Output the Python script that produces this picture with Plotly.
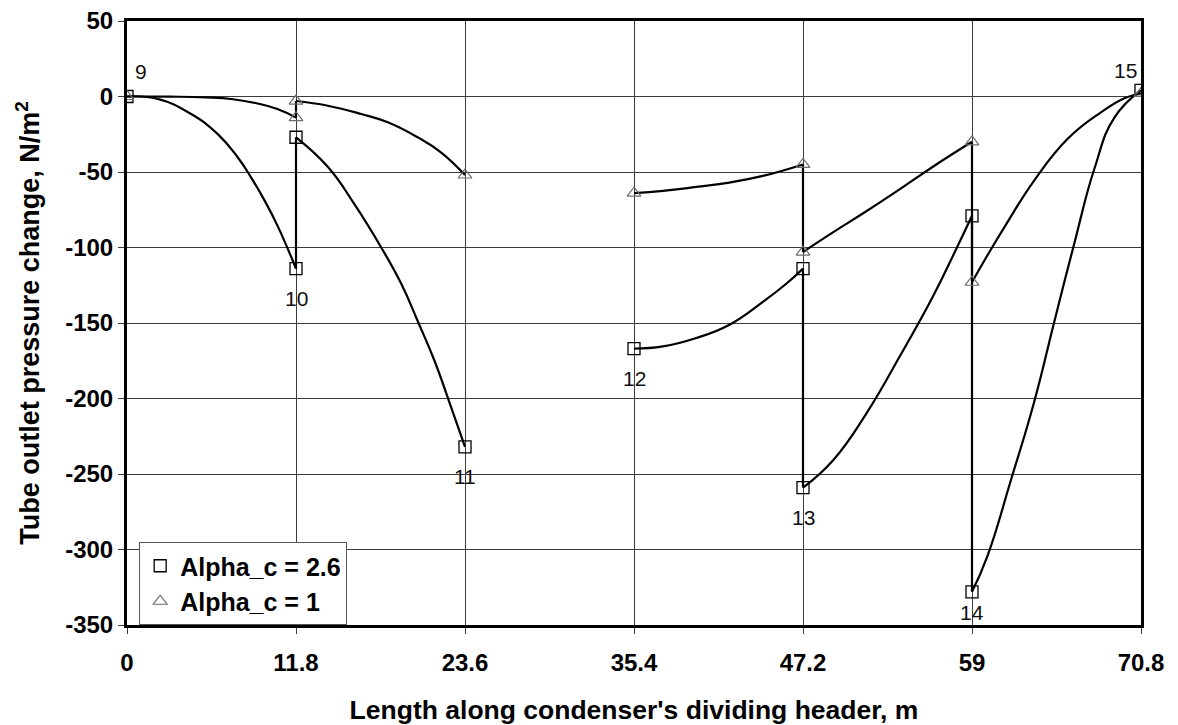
import plotly.graph_objects as go

# Node positions along the header (m) and tube outlet pressure change (N/m^2)
node_x = [0, 11.8, 11.8, 23.6, 35.4, 47.2, 47.2, 59, 59, 70.8]
sq_node_y = [0, -114, -27, -232, -167, -114, -259, -79, -328, 4]
tri_node_y = [0, -14, -3, -52, -64, -45, -103, -30, -123, 2]

# Node numbers and the node index each one belongs to
node_labels = ["9", "10", "11", "12", "13", "14", "15"]
label_nodes = [0, 1, 3, 4, 6, 8, 9]

# Intermediate points along the five curved sections, Alpha_c = 2.6
sq_curve_x = [
    [2.15, 4.48, 6.34, 7.74, 8.67, 9.60, 10.53],
    [14.02, 15.89, 17.75, 19.15, 20.31, 21.47, 22.64],
    [37.42, 39.75, 42.07, 44.40, 46.03],
    [49.29, 51.62, 53.94, 56.27, 57.90],
    [60.09, 61.72, 63.35, 64.75, 66.15, 67.54, 68.94],
]
sq_curve_y = [
    [-1.6, -11.6, -24.9, -40.4, -53.7, -68.8, -86.0],
    [-46.5, -71.5, -100.0, -124.0, -149.0, -175.0, -206.0],
    [-165.5, -159.9, -151.1, -136.0, -124.0],
    [-241.0, -210.0, -172.4, -132.5, -101.0],
    [-304.0, -254.0, -202.0, -149.0, -97.0, -48.0, -14.0],
]

# Intermediate points along the five curved sections, Alpha_c = 1
tri_curve_x = [
    [3.0, 5.5, 7.4, 9.1, 10.5],
    [14.02, 16.35, 18.21, 20.31, 21.94],
    [37.42, 39.75, 42.07, 44.40],
    [49.29, 51.62, 53.94, 56.27],
    [60.09, 61.49, 63.35, 65.68, 68.00, 69.64],
]
tri_curve_y = [
    [-0.1, -0.6, -1.8, -4.6, -8.3],
    [-6.1, -11.6, -17.1, -27.1, -37.1],
    [-62.5, -59.9, -57.0, -52.6],
    [-90.0, -76.0, -61.5, -46.5],
    [-105.0, -83.0, -55.5, -28.0, -10.5, -1.1],
]

x_ticks = [0, 11.8, 23.6, 35.4, 47.2, 59, 70.8]
x_tick_text = ["0", "11.8", "23.6", "35.4", "47.2", "59", "70.8"]
y_ticks = [50, 0, -50, -100, -150, -200, -250, -300, -350]
y_tick_text = ["50", "0", "-50", "-100", "-150", "-200", "-250", "-300", "-350"]

FONT = "Liberation Sans, Arial, sans-serif"


def build_path(node_y, curve_x, curve_y):
    """Curved sections joined by vertical jumps at the shared nodes,
    with a break between 23.6 m and 35.4 m."""
    xs, ys = [], []
    for k in range(5):
        a, b = 2 * k, 2 * k + 1
        xs += [node_x[a]] + curve_x[k] + [node_x[b]] + [None]
        ys += [node_y[a]] + curve_y[k] + [node_y[b]] + [None]
        if k < 4 and k != 1:
            xs += [node_x[b], node_x[b + 1], None]
            ys += [node_y[b], node_y[b + 1], None]
    return xs, ys


fig = go.Figure()

for node_y, cx, cy in [(sq_node_y, sq_curve_x, sq_curve_y),
                       (tri_node_y, tri_curve_x, tri_curve_y)]:
    px_, py_ = build_path(node_y, cx, cy)
    fig.add_trace(go.Scatter(
        x=px_, y=py_, mode="lines", connectgaps=False,
        line=dict(color="black", width=2.2, shape="spline", smoothing=1.3),
        showlegend=False, hoverinfo="skip",
    ))

fig.add_trace(go.Scatter(
    x=node_x, y=sq_node_y, mode="markers", name="Alpha_c = 2.6",
    marker=dict(symbol="square-open", size=12, color="black",
                line=dict(width=1.3, color="black")),
))
fig.add_trace(go.Scatter(
    x=node_x, y=tri_node_y, mode="markers", name="Alpha_c = 1",
    marker=dict(symbol="triangle-up-open", size=12, color="#6e6e6e",
                line=dict(width=1.2, color="#6e6e6e")),
))

# Node number labels
shifts = {"9": (14, 25), "15": (-16, 20), "14": (0, -21)}
for text, idx in zip(node_labels, label_nodes):
    dx, dy = shifts.get(text, (0, -30))
    fig.add_annotation(
        x=node_x[idx], y=sq_node_y[idx], text=text, showarrow=False,
        xshift=dx, yshift=dy,
        font=dict(family=FONT, size=21, color="#111111"),
    )

axis_common = dict(
    showline=True, linewidth=3, linecolor="black", mirror=True,
    showgrid=True, gridcolor="#3c3c3c", gridwidth=1,
    ticks="outside", ticklen=6, tickwidth=1, tickcolor="#3c3c3c",
    zeroline=False, automargin=False,
    tickfont=dict(family=FONT, size=24, color="black", weight="bold"),
)

fig.update_xaxes(
    range=[0, 70.8], tickvals=x_ticks, ticktext=x_tick_text,
    ticklabelstandoff=8,
    title=dict(text="Length along condenser's dividing header, m",
               font=dict(family=FONT, size=26.5, color="black", weight="bold"),
               standoff=26),
    **axis_common,
)
fig.update_yaxes(
    range=[-350, 50], tickvals=y_ticks, ticktext=y_tick_text,
    title=dict(text="Tube outlet pressure change, N/m<sup>2</sup>",
               font=dict(family=FONT, size=27, color="black", weight="bold"),
               standoff=18),
    **axis_common,
)

fig.update_layout(
    width=1178, height=725,
    margin=dict(l=127, r=37, t=21, b=100),
    paper_bgcolor="white", plot_bgcolor="white",
    legend=dict(
        x=0.012, y=0.0, xanchor="left", yanchor="bottom",
        bgcolor="white", bordercolor="#555555", borderwidth=1,
        font=dict(family=FONT, size=25, color="black", weight="bold"),
        itemsizing="trace", tracegroupgap=0, itemwidth=30,
    ),
)

fig.write_html("out.html")
